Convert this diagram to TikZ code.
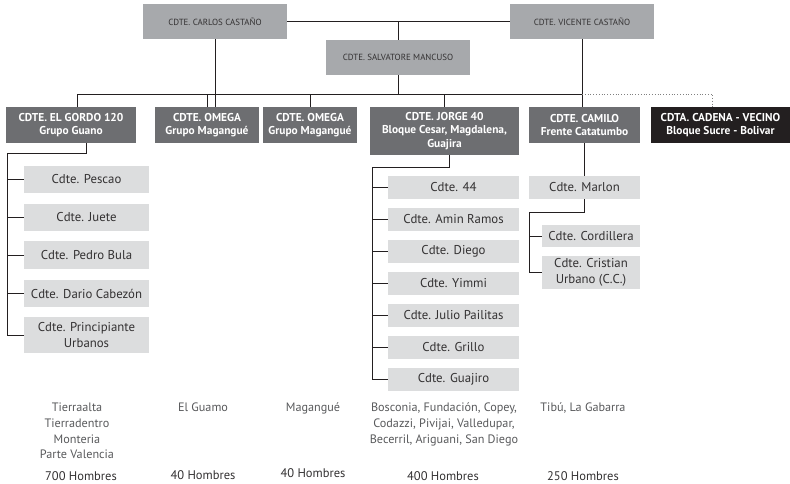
\documentclass[tikz,border=0pt]{standalone}
\usepackage{fontspec}
\setmainfont{PT Sans}
\usepackage{tikz}

\definecolor{topgray}{HTML}{A7A9AC}
\definecolor{blockgray}{HTML}{6D6E71}
\definecolor{blockblack}{HTML}{231F20}
\definecolor{subgray}{HTML}{DCDDDE}
\definecolor{boxtext}{HTML}{333132}
\definecolor{zonetext}{HTML}{58595B}
\definecolor{linecol}{HTML}{231F20}

\begin{document}
\begin{tikzpicture}[x=1pt, y=-1pt,
            jefe/.style={fill=topgray, text=boxtext, font=\fontsize{8.9}{10}\selectfont, minimum width=144pt, minimum height=35pt, inner sep=0pt, align=center}, % top commanders
            bloque/.style={fill=blockgray, text=white, font=\bfseries\fontsize{11.4}{13.5}\selectfont, minimum height=36pt, inner sep=0pt, align=center}, % blocks
            sub/.style={fill=subgray, text=boxtext, font=\fontsize{12.8}{15.5}\selectfont, minimum height=23pt, inner sep=0pt, align=center}, % sub commanders
            zona/.style={text=zonetext, font=\fontsize{12.2}{15.7}\selectfont, align=center, anchor=north, inner sep=0pt}, % places
            hombres/.style={text=boxtext, font=\fontsize{12.5}{13}\selectfont, inner sep=0pt}, % men count
            enlace/.style={draw=linecol, line width=0.8pt} % connectors
            ]
        \useasboundingbox (0,0) rectangle (790,483);

        % Top commanders
        \node[jefe] (carlos) at (215,21.5) {CDTE. CARLOS CASTAÑO};
        \node[jefe] (vicente) at (582,21.5) {CDTE. VICENTE CASTAÑO};
        \node[jefe] (mancuso) at (398,57.5) {CDTE. SALVATORE MANCUSO};

        % Blocks
        \node[bloque, minimum width=130pt] (gordo) at (71,125) {CDTE. EL GORDO 120\\Grupo Guano};
        \node[bloque, minimum width=104pt] (omegaA) at (207,125) {CDTE. OMEGA\\Grupo Magangué};
        \node[bloque, minimum width=94pt] (omegaB) at (310,125) {CDTE. OMEGA\\Grupo Magangué};
        \node[bloque, minimum width=149pt, minimum height=48pt] (jorge) at (444.5,131) {CDTE. JORGE 40\\Bloque Cesar, Magdalena,\\Guajira};
        \node[bloque, minimum width=111pt] (camilo) at (584.5,125) {CDTE. CAMILO\\Frente Catatumbo};
        \node[bloque, fill=blockblack, minimum width=139pt] (cadena) at (720.5,125) {CDTA. CADENA - VECINO\\Bloque Sucre - Bolivar};

        % Top links
        \coordinate (bus) at (0,94);
        \draw[enlace] (carlos.east) -- (vicente.west);
        \draw[enlace] (mancuso.north) -- (mancuso.north |- carlos.east);
        \draw[enlace] (mancuso.south) -- (mancuso.south |- bus);
        \draw[enlace] (carlos.south) -- (carlos.south |- omegaA.north);
        \draw[enlace] (vicente.south) -- (vicente.south |- camilo.north);
        \draw[enlace] ([xshift=6pt]gordo.north |- bus) -- (vicente.south |- bus);
        \draw[enlace] ([xshift=6pt]gordo.north |- bus) -- ([xshift=6pt]gordo.north);
        \foreach \n in {omegaA, omegaB, jorge}
            \draw[enlace] (\n.north |- bus) -- (\n.north);
        \draw[gray, dotted, line width=0.8pt] (vicente.south |- bus) -| ([xshift=-8pt]cadena.north);

        % Grupo Guano
        \foreach \n/\y/\h/\t in {pescao/179.5/27/Cdte. Pescao, juete/217.5/27/Cdte. Juete, pedro/255/28/Cdte. Pedro Bula, dario/293.5/27/Cdte. Dario Cabezón, principiante/335/36/{Cdte. Principiante\\Urbanos}}
            \node[sub, minimum width=125pt, minimum height=\h pt] (\n) at (86.5,\y) {\t};
        \coordinate (gspine) at (7,153);
        \draw[enlace] ([xshift=15pt]gordo.south) |- (gspine) -- (gspine |- principiante.west);
        \foreach \n in {pescao, juete, pedro, dario, principiante}
            \draw[enlace] (gspine |- \n.west) -- (\n.west);

        % Jorge 40
        \foreach \n/\y/\t in {c44/187.5/Cdte. 44, amin/219.5/Cdte. Amin Ramos, diego/251.5/Cdte. Diego, yimmi/283.5/Cdte. Yimmi, julio/315.5/Cdte. Julio Pailitas, grillo/347.5/Cdte. Grillo, guajiro/379.5/Cdte. Guajiro}
            \node[sub, minimum width=131pt] (\n) at (453.5,\y) {\t};
        \coordinate (jspine) at (372,167);
        \draw[enlace] ([xshift=4.5pt]jorge.south) |- (jspine) -- (jspine |- guajiro.west);
        \foreach \n in {c44, amin, diego, yimmi, julio, grillo, guajiro}
            \draw[enlace] (jspine |- \n.west) -- (\n.west);

        % Camilo
        \node[sub, minimum width=111pt] (marlon) at (584.5,187.5) {Cdte. Marlon};
        \node[sub, minimum width=98pt, minimum height=22pt] (cordillera) at (591,236) {Cdte. Cordillera};
        \node[sub, minimum width=98pt, minimum height=33pt] (cristian) at (591,272.5) {Cdte. Cristian\\Urbano (C.C.)};
        \draw[enlace] (camilo.south) -- (camilo.south |- marlon.north);
        \coordinate (cspine) at (529,212);
        \draw[enlace] (marlon.south) |- (cspine) -- (cspine |- cristian.west);
        \foreach \n in {cordillera, cristian}
            \draw[enlace] (cspine |- \n.west) -- (\n.west);

        % Places and men
        \node[zona] (zonaGordo) at (77,403) {Tierraalta\\Tierradentro\\Monteria\\Parte Valencia};
        \node[zona] (zonaGuamo) at (203,403) {El Guamo};
        \node[zona] (zonaMagangue) at (313,403) {Magangué};
        \node[zona] (zonaJorge) at (444,403) {Bosconia, Fundación, Copey,\\Codazzi, Pivijai, Valledupar,\\Becerril, Ariguani, San Diego};
        \node[zona] (zonaCamilo) at (583,403) {Tibú, La Gabarra};
        \node[hombres] (menGordo) at (81,476) {700 Hombres};
        \node[hombres] (menGuamo) at (203,475) {40 Hombres};
        \node[hombres] (menMagangue) at (313,473) {40 Hombres};
        \node[hombres] (menJorge) at (443,476) {400 Hombres};
        \node[hombres] (menCamilo) at (583,476) {250 Hombres};

    \end{tikzpicture}
\end{document}
